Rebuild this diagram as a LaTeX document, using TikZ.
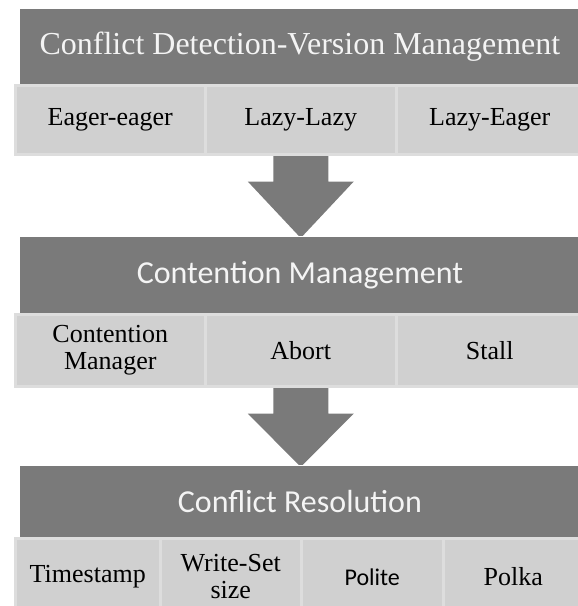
\documentclass[tikz,border=0pt]{standalone}
\usepackage{fontspec}
\setmainfont{Liberation Serif}
\newfontfamily\cellserif{Liberation Serif}
\newfontfamily\headsans{Carlito}
\usetikzlibrary{backgrounds,calc}
\definecolor{headgray}{HTML}{7A7A7A}
\definecolor{cellgray}{HTML}{D0D0D0}
\definecolor{celledge}{HTML}{DDDDDD}
\definecolor{headtext}{HTML}{F4F4F4}
\tikzset{
  head/.style={fill=headgray, draw=white, line width=0.8pt, text=headtext,
    minimum width=561pt, inner sep=0pt, anchor=north west},
  cell/.style={fill=cellgray, draw=celledge, line width=2.5pt, text=black,
    inner sep=0pt, align=center, anchor=north west,
    font=\cellserif\fontsize{26}{27}\selectfont},
  blockarrow/.style={fill=headgray},
}
% block arrow pointing down from #1 to #2
\newcommand\downblock[2]{%
  \fill[blockarrow] let \p1=(#1), \p2=(#2) in
    (\x1-27.5pt,\y1) -- (\x1+27.5pt,\y1) -- (\x1+27.5pt,\y1-26pt)
    -- (\x1+53pt,\y1-26pt) -- (\x1,\y2-2pt) -- (\x1-53pt,\y1-26pt)
    -- (\x1-27.5pt,\y1-26pt) -- cycle;}
\begin{document}
\begin{tikzpicture}[x=1pt,y=-1pt]
\useasboundingbox (0,0) rectangle (578,606);

% level 1
\node[head, minimum height=76pt, font=\cellserif\fontsize{32}{34}\selectfont] (h1) at (19,8)
  {Conflict Detection-Version Management};
\node[cell, minimum width=190pt, minimum height=69pt] (c11) at (14,84) {Eager-eager};
\node[cell, minimum width=191pt, minimum height=69pt] (c12) at (204,84) {Lazy-Lazy};
\node[cell, minimum width=187pt, minimum height=69pt] (c13) at (395,84) {Lazy-Eager};

% level 2
\node[head, minimum height=77pt, font=\headsans\fontsize{32}{34}\selectfont] (h2) at (19,236)
  {Contention Management};
\node[cell, minimum width=190pt, minimum height=72pt] (c21) at (14,313) {Contention\\Manager};
\node[cell, minimum width=191pt, minimum height=72pt] (c22) at (204,313) {Abort};
\node[cell, minimum width=187pt, minimum height=72pt] (c23) at (395,313) {Stall};

% level 3
\node[head, minimum height=72pt, font=\headsans\fontsize{32}{34}\selectfont] (h3) at (19,465)
  {Conflict Resolution};
\node[cell, minimum width=145pt, minimum height=77pt] (c31) at (14,537) {Timestamp};
\node[cell, minimum width=141pt, minimum height=77pt] (c32) at (159,537) {Write-Set\\size};
\node[cell, minimum width=142pt, minimum height=77pt, font=\headsans\fontsize{24}{26}\selectfont] (c33) at (300,537) {Polite};
\node[cell, minimum width=140pt, minimum height=77pt] (c34) at (442,537) {Polka};

% arrows between levels
\begin{scope}[on background layer]
\downblock{c12.south}{h2.north}
\downblock{c22.south}{h3.north}
\end{scope}
\end{tikzpicture}
\end{document}
